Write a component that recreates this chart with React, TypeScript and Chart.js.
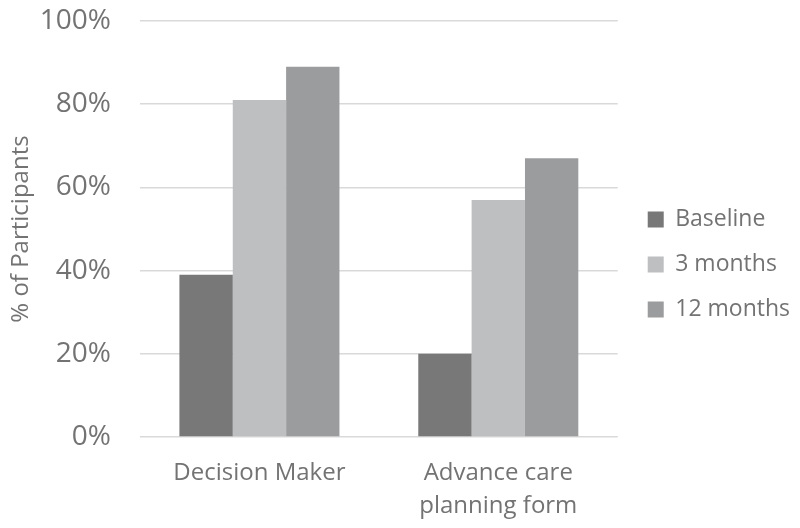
import React, { useEffect, useRef } from "react";
import { Chart, registerables } from "chart.js";

Chart.register(...registerables);

const categories: (string | string[])[] = ["Decision Maker", ["Advance care", "planning form"]];
const seriesNames = ["Baseline", "3 months", "12 months"];
const baseline = [39, 20];
const threeMonths = [81, 57];
const twelveMonths = [89, 67];
const seriesColors = ["#787879", "#bebfc1", "#9b9c9e"];
const yTicks = [0, 20, 40, 60, 80, 100];

const FONT = "'Open Sans', sans-serif";
const TEXT = "#737373";

const legendShift = {
  id: "legendShift",
  afterLayout(chart: any) {
    const lg = chart.legend;
    if (!lg) return;
    lg.left += 8;
    lg.right += 8;
    lg.top -= 10;
    lg.bottom -= 10;
  },
};

export default function App() {
  const ref = useRef<HTMLCanvasElement | null>(null);
  useEffect(() => {
    if (!ref.current) return;
    const values = [baseline, threeMonths, twelveMonths];
    const chart = new Chart(ref.current, {
      type: "bar",
      data: {
        labels: categories,
        datasets: seriesNames.map((name, i) => ({
          label: name,
          data: values[i],
          backgroundColor: seriesColors[i],
          borderWidth: 0,
          barPercentage: 1,
          categoryPercentage: 0.67,
        })),
      },
      plugins: [legendShift],
      options: {
        animation: false,
        responsive: false,
        maintainAspectRatio: false,
        layout: { padding: { top: 21, right: 8, left: 6, bottom: 0 } },
        plugins: {
          tooltip: { enabled: false },
          legend: {
            position: "right",
            labels: {
              boxWidth: 16,
              boxHeight: 16,
              padding: 22,
              color: TEXT,
              font: { family: FONT, size: 23 },
            },
          },
        },
        scales: {
          x: {
            grid: { display: false, drawTicks: false },
            border: { display: false },
            ticks: {
              color: TEXT,
              font: { family: FONT, size: 24, lineHeight: 1.4 },
              padding: 19,
              maxRotation: 0,
            },
            afterFit: (s: any) => {
              s.height = 91;
              s.paddingLeft = 0;
              s.paddingRight = 0;
            },
          },
          y: {
            min: 0,
            max: 100,
            afterBuildTicks: (axis: any) => {
              axis.ticks = yTicks.map((v) => ({ value: v }));
            },
            afterFit: (s: any) => {
              s.width = 134;
              s.paddingTop = 0;
              s.paddingBottom = 0;
            },
            grid: { color: "#d9d9d9", lineWidth: 1.5, drawTicks: false },
            border: { display: false },
            ticks: {
              color: TEXT,
              font: { family: FONT, size: 28 },
              padding: 29,
              callback: (v: any) => v + "%",
            },
            title: {
              display: true,
              text: "% of Participants",
              color: TEXT,
              font: { family: FONT, size: 24 },
              padding: { top: 1, bottom: 0 },
            },
          },
        },
      },
    });
    return () => chart.destroy();
  }, []);
  return (
    <div style={{ position: "fixed", left: 0, top: 0, width: 800, height: 528, background: "#fff" }}>
      <canvas ref={ref} width={800} height={528} />
    </div>
  );
}
